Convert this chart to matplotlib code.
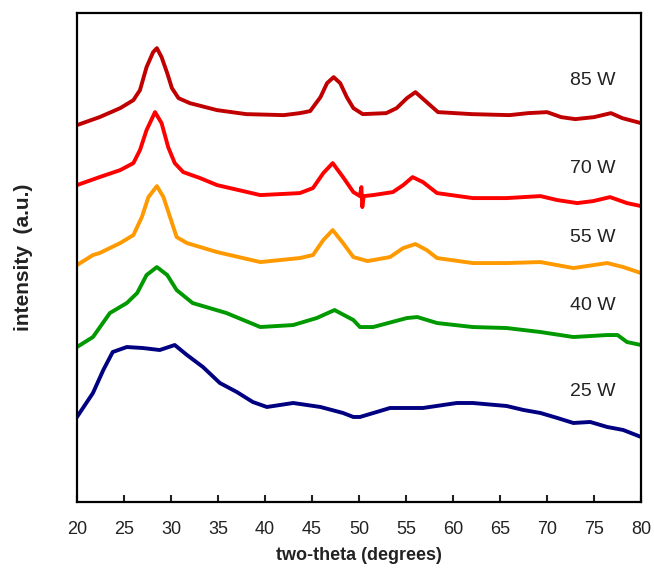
import matplotlib.pyplot as plt

plt.rcParams["font.family"] = ["Liberation Sans", "DejaVu Sans"]

# two-theta positions (degrees) and intensities (a.u., already offset)
tt_85 = [20, 22.4, 24.6, 26, 26.7, 27.4, 28.1, 28.5, 29, 29.6, 30.1, 30.8, 32, 34.9,
         38, 42, 43.7, 44.8, 45.9, 46.6, 47.3, 48, 48.7, 49.4, 50.4, 52.9, 54, 55.1,
         56, 57.2, 58.4, 62, 66, 68, 70, 71.5, 73, 75, 76.8, 78, 80]
i_85 = [377, 385, 394, 402, 412, 435, 450, 454, 445, 429, 414, 404, 399, 392,
        388, 387, 389, 391, 405, 419, 425, 419, 405, 394, 388, 389, 394, 404,
        410, 400, 390, 388, 387, 389, 390, 385, 383, 385, 389, 384, 379]

tt_70 = [20, 22.4, 24.6, 26, 26.7, 27.4, 28.3, 29, 29.7, 30.4, 31.3, 33.1, 34.9, 39.5,
         43.7, 45.1, 46.2, 47.2, 48.3, 49.4, 50.1, 50.25, 50.35, 50.5, 51.5, 53.6,
         54.7, 55.7, 56.8, 58.3, 62.1, 65.7, 69.3, 71.1, 73.2, 74.9, 76.7, 78.5, 80]
i_70 = [317, 325, 332, 339, 352, 372, 390, 379, 355, 339, 330, 324, 317, 307,
        309, 314, 329, 339, 325, 310, 306, 315, 295, 306, 307, 310,
        317, 325, 320, 309, 304, 304, 306, 302, 299, 301, 305, 299, 296]

tt_55 = [20, 21.7, 22.4, 24.6, 26, 26.9, 27.6, 28.5, 29.2, 29.9, 30.6, 31.7, 34.9,
         39.5, 43.7, 45.1, 46.2, 47.2, 48.3, 49.4, 50.9, 53.3, 54.7, 56, 57.2, 58.3,
         62.1, 65.7, 69.3, 72.8, 76.4, 78.1, 80]
i_55 = [237, 247, 249, 259, 267, 285, 305, 316, 305, 285, 265, 259, 250,
        240, 244, 247, 262, 272, 259, 245, 241, 245, 254, 258, 252, 244,
        239, 239, 240, 234, 239, 235, 229]

tt_40 = [20, 21.7, 23.5, 25.3, 26.4, 27.4, 28.5, 29.6, 30.6, 32.3, 35.9, 39.5, 43,
         45.5, 47.4, 49.4, 50.1, 51.5, 55.1, 56.2, 58.3, 62.1, 65.7, 69.3, 72.8,
         76.4, 77.5, 78.5, 80]
i_40 = [155, 165, 189, 199, 209, 227, 235, 227, 212, 199, 189, 175, 177,
        184, 192, 182, 175, 175, 184, 185, 179, 175, 174, 170, 165,
        167, 167, 160, 157]

tt_25 = [20, 21.7, 22.8, 23.8, 25.3, 27, 28.8, 30.4, 31.7, 33.4, 35.2, 37, 38.7, 40.2,
         43, 45.9, 48.3, 49.4, 50.1, 53.3, 56.8, 60.4, 62.1, 65.7, 67.5, 69.3, 71.1,
         72.8, 74.6, 76.4, 78.1, 80]
i_25 = [85, 109, 132, 150, 155, 154, 152, 157, 147, 135, 119, 110, 100, 95,
        99, 95, 89, 85, 85, 94, 94, 99, 99, 96, 92, 89, 84,
        79, 80, 75, 72, 65]

series = [
    ("85 W", tt_85, i_85, "#c00000", 80),
    ("70 W", tt_70, i_70, "#ff0000", 168),
    ("55 W", tt_55, i_55, "#ff9900", 237),
    ("40 W", tt_40, i_40, "#009900", 305),
    ("25 W", tt_25, i_25, "#000080", 392),
]

x_ticks = [20, 25, 30, 35, 40, 45, 50, 55, 60, 65, 70, 75, 80]

fig = plt.figure(figsize=(6.54, 5.73), dpi=100)
ax = fig.add_axes([0.1177, 0.124, 0.8625, 0.853])

for label, tt, inten, color, label_px in series:
    ax.plot(tt, inten, color=color, lw=2.8, solid_joinstyle="round")
    ax.text(74.9, 502 - label_px, label, ha="center", va="center",
            fontsize=14, color="#222222")

ax.set_xlim(20, 80)
ax.set_ylim(0, 489)
ax.set_xticks(x_ticks)
ax.set_yticks([])
ax.tick_params(axis="x", direction="in", length=5, width=1.5, labelsize=13,
               pad=14, colors="#222222")
for sp in ax.spines.values():
    sp.set_linewidth(1.6)

ax.set_xlabel("two-theta (degrees)", fontsize=13, fontweight="bold",
              labelpad=6, color="#222222")
ax.set_ylabel("intensity  (a.u.)", fontsize=15, fontweight="bold",
              labelpad=32, color="#222222")

fig.savefig("out.png", dpi=100)
